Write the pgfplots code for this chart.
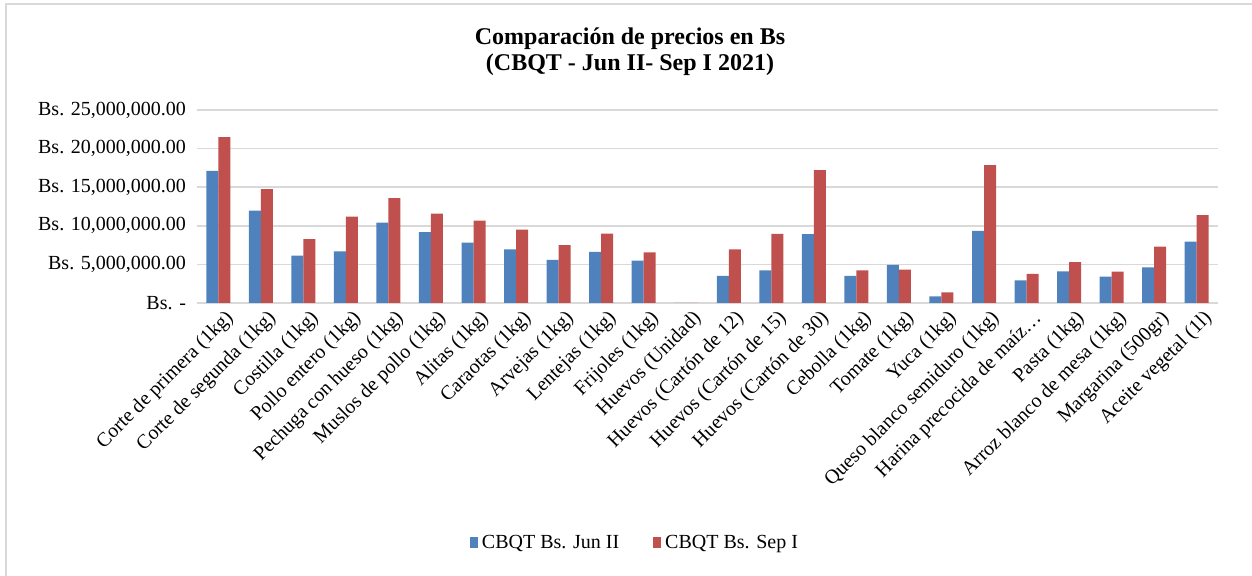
\documentclass[border=0pt]{standalone}
\usepackage{fontspec}
\setmainfont{Liberation Serif}
\usepackage{pgfplots}
\pgfplotsset{compat=1.18}

\definecolor{serA}{HTML}{4F81BD}
\definecolor{serB}{HTML}{C0504D}
\definecolor{gridc}{HTML}{D9D9D9}

% precios en millones de Bs
\begin{document}
\begin{tikzpicture}
\path[use as bounding box] (-98.5pt,-136.5pt) rectangle (527.5pt,151.5pt);
\draw[gridc, line width=1pt] (-95.5pt,-136.5pt) -- (-95.5pt,149.5pt) -- (527.5pt,149.5pt);
\node[font=\bfseries\fontsize{12}{13}\selectfont, align=center] at (216.5pt,125.5pt)
  {Comparación de precios en Bs\\(CBQT - Jun II- Sep I 2021)};
\begin{axis}[
    scale only axis, width=510.5pt, height=96.5pt,
    ybar=0pt, bar width=6pt,
    xmin=-0.5, xmax=23.5, ymin=0, ymax=25,
    axis x line*=bottom, axis y line*=left,
    x axis line style={gridc, line width=0.8pt, -},
    y axis line style={draw=none},
    xtick={0,...,23}, major tick length=0pt,
    xticklabels={Corte de primera (1kg), Corte de segunda (1kg), Costilla (1kg),
      Pollo entero (1kg), Pechuga con hueso (1kg), Muslos de pollo (1kg),
      Alitas (1kg), Caraotas (1kg), Arvejas (1kg), Lentejas (1kg), Frijoles (1kg),
      Huevos (Unidad), Huevos (Cartón de 12), Huevos (Cartón de 15),
      Huevos (Cartón de 30), Cebolla (1kg), Tomate (1kg), Yuca (1kg),
      Queso blanco semiduro (1kg), Harina precocida de maíz…, Pasta (1kg),
      Arroz blanco de mesa (1kg), Margarina (500gr), Aceite vegetal (1l)},
    x tick label style={rotate=45, anchor=north east, font=\fontsize{10}{12}\selectfont,
      inner sep=1pt, xshift=1pt, yshift=-3pt},
    ytick={0,5,10,15,20,25},
    yticklabels={Bs. -, {Bs. 5,000,000.00}, {Bs. 10,000,000.00},
      {Bs. 15,000,000.00}, {Bs. 20,000,000.00}, {Bs. 25,000,000.00}},
    ymajorgrids, grid style={gridc, line width=0.8pt},
    y tick label style={font=\fontsize{10}{12}\selectfont, anchor=east, xshift=-2pt},
    clip=false,
    legend style={at={(219.5pt,-120pt)}, anchor=center, draw=none, fill=none,
      legend columns=2, font=\fontsize{10}{12}\selectfont,
      /tikz/every even column/.append style={column sep=15pt}},
    legend image code/.code={\fill[#1] (0pt,-2.5pt) rectangle (4pt,3pt);},
]
\addplot[fill=serA, draw=none] coordinates {
 (0,17.13) (1,11.98) (2,6.14) (3,6.70) (4,10.42) (5,9.17) (6,7.83) (7,6.96)
 (8,5.58) (9,6.62) (10,5.49) (11,0.0) (12,3.50) (13,4.24) (14,8.91) (15,3.50)
 (16,4.93) (17,0.87) (18,9.34) (19,2.94) (20,4.11) (21,3.42) (22,4.63) (23,7.96)};
\addplot[fill=serB, draw=none] coordinates {
 (0,21.50) (1,14.75) (2,8.26) (3,11.20) (4,13.58) (5,11.59) (6,10.68) (7,9.52)
 (8,7.48) (9,9.00) (10,6.57) (11,0.0) (12,6.96) (13,8.95) (14,17.21) (15,4.24)
 (16,4.33) (17,1.38) (18,17.86) (19,3.76) (20,5.28) (21,4.07) (22,7.31) (23,11.38)};
\legend{CBQT Bs. Jun II, CBQT Bs. Sep I}
\end{axis}
\end{tikzpicture}
\end{document}
